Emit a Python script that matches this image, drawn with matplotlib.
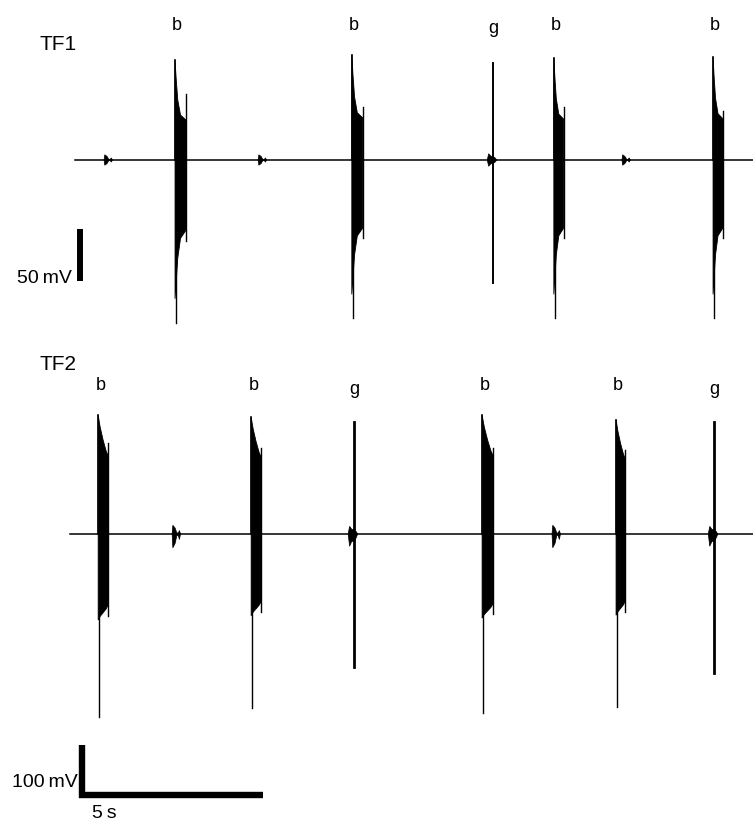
import numpy as np
import matplotlib
matplotlib.use("Agg")
import matplotlib.pyplot as plt

plt.rcParams['font.family'] = ['Liberation Sans', 'DejaVu Sans']

# --- recording data (time in s, voltage in mV) ---
# TF1
tf1_span = [0.14, 18.70]
tf1_blip_t = [0.93, 5.14, 15.08]
tf1_blip_amp = [5, 5, 5]
tf1_type = ['b', 'b', 'g', 'b', 'b']
tf1_t = [2.87, 7.70, 11.56, 13.22, 17.57]
tf1_top = [96, 101, 93, 98, 99]
tf1_bottom = [-157, -152, -118, -152, -152]
tf1_dur = [0.30, 0.30, 0.0, 0.27, 0.27]
tf1_late = [63, 51, 0, 51, 47]

# TF2
tf2_span = [0.0, 18.70]
tf2_blip_t = [2.79, 13.17]
tf2_blip_amp = [17, 17]
tf2_type = ['b', 'b', 'g', 'b', 'b', 'g']
tf2_t = [0.77, 4.95, 7.76, 11.26, 14.92, 17.60]
tf2_top = [233, 229, 220, 233, 224, 220]
tf2_bottom = [-359, -341, -261, -351, -339, -273]
tf2_dur = [0.27, 0.27, 0.0, 0.30, 0.25, 0.0]
tf2_late = [178, 169, 0, 169, 165, 0]

# burst envelope shapes (fraction of burst duration / of peak or trough)
tf1_env_x = [0.0, 0.1, 0.25, 0.5, 1.0]
tf1_env_up = [1.0, 0.82, 0.6, 0.45, 0.4]
tf1_env_lo = [0.85, 0.75, 0.6, 0.48, 0.43]
tf2_env_x = [0.0, 0.2, 0.5, 0.8, 1.0]
tf2_env_up = [1.0, 0.9, 0.79, 0.7, 0.66]
tf2_env_lo = [0.47, 0.45, 0.43, 0.41, 0.39]

# small blip shape (s offsets, fraction of amplitude)
blip_dt = [0.0, 0.02, 0.08, 0.13, 0.17, 0.2, 0.23]
blip_fr = [0.0, 1.0, 0.7, 0.12, 0.12, 0.4, 0.0]
gblob_dt = [-0.16, -0.12, -0.06, 0.0, 0.06, 0.1]
gblob_fr = [0.0, 1.0, 0.6, 0.6, 0.3, 0.0]

W, H = 753, 821
fig = plt.figure(figsize=(W / 100, H / 100), dpi=100)
px_s = 36.6
x0_px = 70


def make_axes(top_px, bot_px, base_px, px_mv):
    ax = fig.add_axes([0, 1 - bot_px / H, 1, (bot_px - top_px) / H])
    ax.set_xlim(-x0_px / px_s, (W - x0_px) / px_s)
    ax.set_ylim(-(bot_px - base_px) / px_mv, (base_px - top_px) / px_mv)
    ax.axis('off')
    return ax


def draw_trace(ax, span, blip_t, blip_amp, blip_lo, types, ts, tops, bots, durs, lates,
               env_x, env_up, env_lo, g_lw, gblob_amp, lab_b, lab_g):
    ax.plot(span, [0, 0], color='k', lw=1.1, zorder=1)
    for t, a in zip(blip_t, blip_amp):
        xs = t + np.array(blip_dt)
        ax.fill(np.r_[xs, xs[::-1]],
                np.r_[a * np.array(blip_fr), -blip_lo / blip_amp[0] * a * np.array(blip_fr)[::-1]],
                color='k', lw=0.5)
    for k, t, top, bot, d, late in zip(types, ts, tops, bots, durs, lates):
        if k == 'b':
            xs = t + np.array(env_x) * d
            up = top * np.array(env_up)
            lo = bot * np.array(env_lo)
            ax.fill(np.r_[xs, xs[::-1]], np.r_[up, lo[::-1]], color='k', lw=0.6)
            ax.plot([t, t], [0, top], color='k', lw=1.2)
            ax.plot([t + 0.03, t + 0.03], [bot, 0], color='k', lw=1.0)
            ax.plot([t + d, t + d], [lo[-1] * 1.15, late], color='k', lw=1.0)
            ax.text(t + 0.06, lab_b, 'b', ha='center', va='baseline', fontsize=13)
        else:
            ax.plot([t, t], [bot, top], color='k', lw=g_lw)
            xs = t + np.array(gblob_dt)
            ax.fill(np.r_[xs, xs[::-1]],
                    np.r_[gblob_amp[0] * np.array(gblob_fr), -gblob_amp[1] * np.array(gblob_fr)[::-1]],
                    color='k', lw=0.5)
            ax.text(t, lab_g, 'g', ha='center', va='baseline', fontsize=13)


ax1 = make_axes(0, 350, 160, 1.04)
ax2 = make_axes(350, 821, 534, 0.51)

draw_trace(ax1, tf1_span, tf1_blip_t, tf1_blip_amp, 5, tf1_type, tf1_t, tf1_top, tf1_bottom,
           tf1_dur, tf1_late, tf1_env_x, tf1_env_up, tf1_env_lo, 1.4, (6, 6),
           (160 - 30) / 1.04, (160 - 33) / 1.04)
draw_trace(ax2, tf2_span, tf2_blip_t, tf2_blip_amp, 27, tf2_type, tf2_t, tf2_top, tf2_bottom,
           tf2_dur, tf2_late, tf2_env_x, tf2_env_up, tf2_env_lo, 2.0, (15, 24),
           (534 - 390) / 0.51, (534 - 394) / 0.51)

# scale bars
ax1.plot([0.27, 0.27], [-116, -66], color='k', lw=4.3, solid_capstyle='butt')
ax2.plot([0.34, 0.34, 5.27], [-414, -511, -511], color='k', lw=4.6,
         solid_capstyle='butt', solid_joinstyle='miter')

fig.text(39 / W, 1 - 44 / H, 'TF1', fontsize=15, va='center', ha='left')
fig.text(40 / W, 1 - 365 / H, 'TF2', fontsize=15, va='center', ha='left')
fig.text(72 / W, 1 - 283 / H, '50\u2009mV', fontsize=14, va='baseline', ha='right')
fig.text(78 / W, 1 - 787 / H, '100\u2009mV', fontsize=14, va='baseline', ha='right')
fig.text(104 / W, 1 - 818 / H, '5\u2009s', fontsize=14, va='baseline', ha='center')

fig.savefig('out.png', dpi=100)
